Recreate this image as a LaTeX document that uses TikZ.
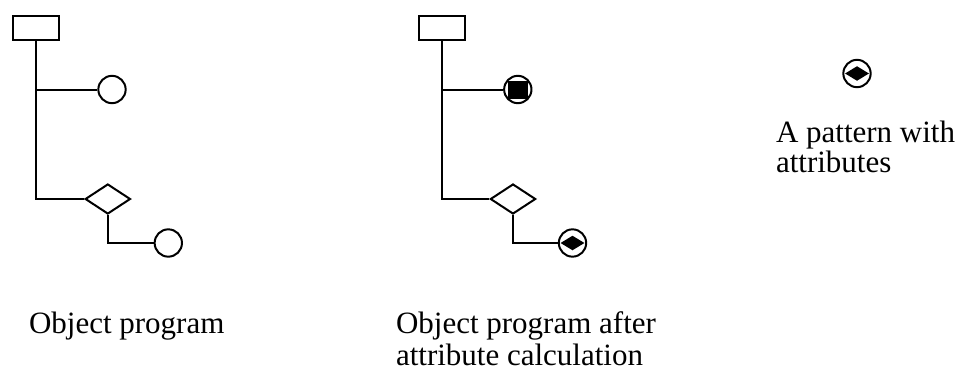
\documentclass[tikz,border=0pt]{standalone}
\usepackage{fontspec}
\setmainfont{Liberation Serif}
\usetikzlibrary{shapes.geometric}
\begin{document}
\begin{tikzpicture}[x=0.75pt,y=-0.75pt,
  line width=1.5pt,
  box/.style={draw,rectangle,inner sep=0pt,minimum width=34.5pt,minimum height=18pt},
  leaf/.style={draw,circle,inner sep=0pt,minimum size=20.5pt},
  choice/.style={draw,diamond,inner sep=0pt,minimum width=34pt,minimum height=22.5pt},
  attrsquare/.style={fill=black,rectangle,inner sep=0pt,minimum width=15pt,minimum height=13.5pt},
  attrdiamond/.style={fill=black,diamond,inner sep=0pt,minimum width=18.5pt,minimum height=11.5pt},
  wire/.style={draw,line width=1.5pt},
  caption/.style={anchor=base west,inner sep=0pt,font=\fontsize{23.25}{28}\selectfont}]
\useasboundingbox (0,0) rectangle (964,371);

% object program
\node[box] (r1) at (36,28) {};
\node[leaf] (c1) at (112,89.5) {};
\node[choice] (d1) at (107.8,199) {};
\node[leaf] (c2) at (168.3,243) {};
\draw[wire] (r1.south) -- (r1.south |- d1.west) -- (d1.west);
\draw[wire] (r1.south |- c1.west) -- (c1.west);
\draw[wire] (d1.south) |- (c2.west);

% object program after attribute calculation
\node[box] (r2) at (441.5,28) {};
\node[leaf] (c3) at (517.8,89.5) {};
\node[attrsquare] (s3) at (c3.center) {};
\node[choice] (d2) at (513,199) {};
\node[leaf] (c4) at (572.5,243) {};
\node[attrdiamond] (s4) at (c4.center) {};
\draw[wire] (r2.south) -- (r2.south |- d2.west) -- (d2.west);
\draw[wire] (r2.south |- c3.west) -- (c3.west);
\draw[wire] (d2.south) |- (c4.west);

% pattern with attributes
\node[leaf] (c5) at (857,73.5) {};
\node[attrdiamond] (s5) at (c5.center) {};

% captions
\node[caption] (t1) at (28,333) {Object program};
\node[caption] (t2a) at (395,333) {Object program after};
\node[caption] (t2b) at (395,365) {attribute calculation};
\node[caption] (t3a) at (775,142) {A pattern with};
\node[caption] (t3b) at (775,172) {attributes};
\end{tikzpicture}
\end{document}
